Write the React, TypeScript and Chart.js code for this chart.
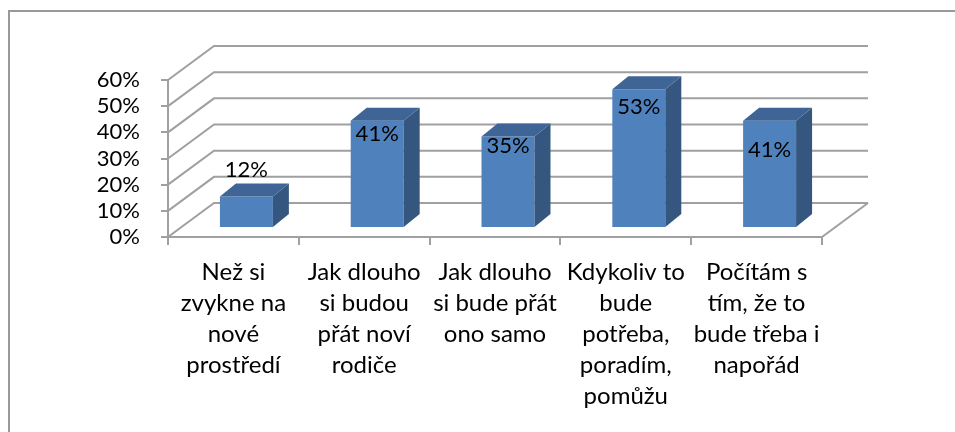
import React, { useEffect, useRef } from "react";
import { Chart, registerables } from "chart.js";

Chart.register(...registerables);

// ---- data ----
const categories: string[][] = [
  ["Než si", "zvykne na", "nové", "prostředí"],
  ["Jak dlouho", "si budou", "přát noví", "rodiče"],
  ["Jak dlouho", "si bude přát", "ono samo"],
  ["Kdykoliv to", "bude", "potřeba,", "poradím,", "pomůžu"],
  ["Počítám s", "tím, že to", "bude třeba i", "napořád"],
];
const values: number[] = [12, 41, 35, 53, 41];
const yTickValues: number[] = [0, 10, 20, 30, 40, 50, 60];

// ---- style / geometry ----
const FONT = "Lato, 'Open Sans', sans-serif";
const WALL_DX = 46;
const WALL_DY = 34;
const BAR_OFF_X = 13;
const BAR_OFF_Y = 9;
const BAR_DX = 16;
const BAR_DY = 13;
const GRID_COLOR = "#a0a0a0";
const FRONT = "#4F81BD";
const SIDE = "#35577F";
const TOP = "#3E6596";
const labelOffsets = [-27, 13, 9, 18, 29];

const threeD = {
  id: "threeD",
  beforeDraw(chart: any) {
    const ctx = chart.ctx;
    ctx.save();
    ctx.fillStyle = "#ffffff";
    ctx.fillRect(0, 0, chart.width, chart.height);
    ctx.strokeStyle = "#999999";
    ctx.lineWidth = 2;
    ctx.beginPath();
    ctx.moveTo(9, chart.height + 5);
    ctx.lineTo(9, 11);
    ctx.lineTo(chart.width + 5, 11);
    ctx.stroke();
    ctx.restore();
  },
  beforeDatasetsDraw(chart: any) {
    const ctx = chart.ctx;
    const { left, right, bottom } = chart.chartArea;
    const ys = chart.scales.y;
    ctx.save();
    ctx.strokeStyle = GRID_COLOR;
    ctx.lineWidth = 2;
    ctx.lineJoin = "miter";
    for (const v of yTickValues) {
      const y = ys.getPixelForValue(v);
      ctx.beginPath();
      ctx.moveTo(left, y);
      ctx.lineTo(left + WALL_DX, y - WALL_DY);
      ctx.lineTo(right + WALL_DX, y - WALL_DY);
      ctx.stroke();
    }
    ctx.beginPath();
    ctx.moveTo(right, bottom);
    ctx.lineTo(right + WALL_DX, bottom - WALL_DY);
    ctx.stroke();
    ctx.restore();
    ctx.save();
    ctx.translate(BAR_OFF_X, -BAR_OFF_Y);
  },
  afterDatasetsDraw(chart: any) {
    const ctx = chart.ctx;
    ctx.restore();
    const meta = chart.getDatasetMeta(0);
    ctx.save();
    meta.data.forEach((el: any, i: number) => {
      const { x, y, base, width } = el.getProps(["x", "y", "base", "width"], true);
      const l = x - width / 2 + BAR_OFF_X;
      const r = x + width / 2 + BAR_OFF_X;
      const t = y - BAR_OFF_Y;
      const b = base - BAR_OFF_Y;
      // side
      ctx.fillStyle = SIDE;
      ctx.beginPath();
      ctx.moveTo(r, t);
      ctx.lineTo(r + BAR_DX, t - BAR_DY);
      ctx.lineTo(r + BAR_DX, b - BAR_DY);
      ctx.lineTo(r, b);
      ctx.closePath();
      ctx.fill();
      // top
      ctx.fillStyle = TOP;
      ctx.beginPath();
      ctx.moveTo(l, t);
      ctx.lineTo(l + BAR_DX, t - BAR_DY);
      ctx.lineTo(r + BAR_DX, t - BAR_DY);
      ctx.lineTo(r, t);
      ctx.closePath();
      ctx.fill();
      // label
      ctx.fillStyle = "#000000";
      ctx.font = `22px ${FONT}`;
      ctx.textAlign = "center";
      ctx.textBaseline = "middle";
      ctx.fillText(values[i] + "%", x + BAR_OFF_X, t + labelOffsets[i]);
    });
    ctx.restore();
  },
};

export default function App() {
  const ref = useRef<HTMLCanvasElement | null>(null);
  useEffect(() => {
    if (!ref.current) return;
    const chart = new Chart(ref.current, {
      type: "bar",
      data: {
        labels: categories,
        datasets: [
          {
            data: values,
            backgroundColor: FRONT,
            borderWidth: 0,
            categoryPercentage: 1,
            barPercentage: 0.405,
            clip: false as any,
          },
        ],
      },
      options: {
        animation: false,
        responsive: false,
        devicePixelRatio: 1,
        layout: { padding: { left: 0, top: 80, right: 133, bottom: 0 } },
        plugins: {
          legend: { display: false },
          tooltip: { enabled: false },
          title: { display: false },
        },
        scales: {
          x: {
            offset: true,
            grid: {
              offset: true,
              drawOnChartArea: false,
              drawTicks: true,
              tickLength: 8,
              color: GRID_COLOR,
              lineWidth: 2,
            },
            border: { display: true, color: GRID_COLOR, width: 2 },
            ticks: {
              maxRotation: 0,
              minRotation: 0,
              autoSkip: false,
              padding: 12,
              color: "#000000",
              font: { family: FONT, size: 24, lineHeight: "31px" as any },
            },
            afterFit: (scale: any) => {
              scale.height = 195;
            },
          },
          y: {
            min: 0,
            max: 60,
            afterBuildTicks: (scale: any) => {
              scale.ticks = yTickValues.map((v) => ({ value: v }));
            },
            ticks: {
              stepSize: 10,
              autoSkip: false,
              padding: 21,
              color: "#000000",
              font: { family: FONT, size: 22 },
              callback: (v: any) => v + "%",
            },
            grid: {
              drawOnChartArea: false,
              drawTicks: true,
              tickLength: 7,
              color: GRID_COLOR,
              lineWidth: 2,
            },
            border: { display: true, color: GRID_COLOR, width: 2 },
            afterFit: (scale: any) => {
              scale.width = 168;
            },
          },
        },
      },
      plugins: [threeD],
    });
    return () => chart.destroy();
  }, []);
  return (
    <div style={{ position: "absolute", left: 0, top: 0, width: 955, height: 432, background: "#fff" }}>
      <canvas ref={ref} width={955} height={432} style={{ width: 955, height: 432, display: "block" }} />
    </div>
  );
}
